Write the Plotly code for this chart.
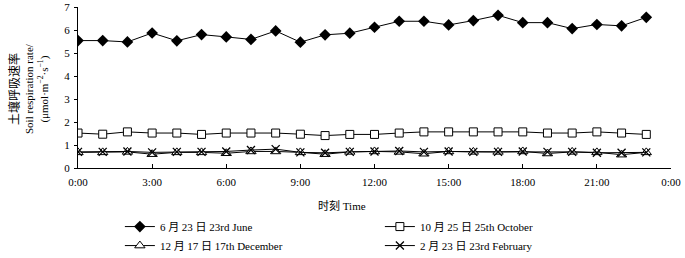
import plotly.graph_objects as go

hours = list(range(24))
tick_vals = [0, 3, 6, 9, 12, 15, 18, 21, 24]
tick_text = ["0:00", "3:00", "6:00", "9:00", "12:00", "15:00", "18:00", "21:00", "0:00"]

june = [5.54, 5.54, 5.48, 5.87, 5.53, 5.80, 5.70, 5.59, 5.96, 5.47, 5.79, 5.86,
        6.12, 6.38, 6.38, 6.22, 6.41, 6.64, 6.32, 6.32, 6.06, 6.24, 6.18, 6.55]
october = [1.52, 1.47, 1.57, 1.52, 1.52, 1.46, 1.52, 1.52, 1.52, 1.47, 1.41, 1.46,
           1.46, 1.52, 1.57, 1.57, 1.57, 1.57, 1.57, 1.52, 1.52, 1.57, 1.52, 1.46]
december = [0.68, 0.68, 0.70, 0.60, 0.68, 0.68, 0.64, 0.72, 0.72, 0.68, 0.60, 0.70,
            0.72, 0.70, 0.62, 0.72, 0.70, 0.70, 0.72, 0.63, 0.70, 0.68, 0.58, 0.68]
february = [0.70, 0.70, 0.72, 0.68, 0.70, 0.70, 0.72, 0.78, 0.82, 0.68, 0.66, 0.70,
            0.72, 0.74, 0.70, 0.72, 0.70, 0.70, 0.72, 0.70, 0.70, 0.66, 0.66, 0.68]

names = ["6 月 23 日 23rd June", "10 月 25 日 25th October",
         "12 月 17 日 17th December", "2 月 23 日 23rd February"]

FONT = "Liberation Serif, Times New Roman, Noto Sans CJK SC, serif"

fig = go.Figure()
fig.add_trace(go.Scatter(x=hours, y=june, name=names[0], mode="lines+markers",
                         line=dict(color="black", width=1),
                         marker=dict(symbol="diamond", size=9, color="black")))
fig.add_trace(go.Scatter(x=hours, y=october, name=names[1], mode="lines+markers",
                         line=dict(color="black", width=1),
                         marker=dict(symbol="square", size=8, color="white",
                                     line=dict(color="black", width=1))))
fig.add_trace(go.Scatter(x=hours, y=december, name=names[2], mode="lines+markers",
                         line=dict(color="black", width=1),
                         marker=dict(symbol="triangle-up", size=9, color="white",
                                     line=dict(color="black", width=1))))
fig.add_trace(go.Scatter(x=hours, y=february, name=names[3], mode="lines+markers",
                         line=dict(color="black", width=1),
                         marker=dict(symbol="x-thin-open", size=8, color="black",
                                     line=dict(color="black", width=1.3))))

fig.update_layout(
    width=685, height=258,
    margin=dict(l=78, r=14, t=7, b=90, autoexpand=False),
    paper_bgcolor="white", plot_bgcolor="white",
    font=dict(family=FONT, size=11, color="black"),
    showlegend=True,
    legend=dict(orientation="h", xref="container", yref="container",
                x=0.175, y=0.178, xanchor="left", yanchor="top",
                entrywidth=215, entrywidthmode="pixels",
                font=dict(family=FONT, size=11), tracegroupgap=0,
                bgcolor="rgba(0,0,0,0)"),
    xaxis=dict(range=[0, 24], tickvals=tick_vals, ticktext=tick_text,
               showline=True, linecolor="black", linewidth=1,
               ticks="inside", ticklen=4, tickcolor="black",
               showgrid=False, zeroline=False, ticklabelstandoff=4),
    yaxis=dict(range=[0, 7], dtick=1, showline=True, linecolor="black", linewidth=1,
               ticks="outside", ticklen=3, tickcolor="black",
               showgrid=False, zeroline=False, ticklabelstandoff=2),
    annotations=[
        dict(text="时刻 Time", xref="paper", yref="paper",
             x=(341.5 - 78) / 593, y=(168.3 - 206) / 161.6,
             showarrow=False, xanchor="center", yanchor="middle",
             font=dict(family=FONT, size=11)),
        dict(text="<span style='font-size:12px'>土壤呼吸速率</span><br>Soil respiration rate/<br>(μmol·m<sup>−2</sup>·s<sup>−1</sup>)",
             xref="paper", yref="paper",
             x=(29 - 78) / 593, y=(168.3 - 89) / 161.6,
             showarrow=False, textangle=-90, xanchor="center", yanchor="middle",
             font=dict(family=FONT, size=11)),
    ],
)

fig.write_html("out.html", config={"displayModeBar": False},
               post_script="document.body.style.margin='0';document.body.style.padding='0';")
